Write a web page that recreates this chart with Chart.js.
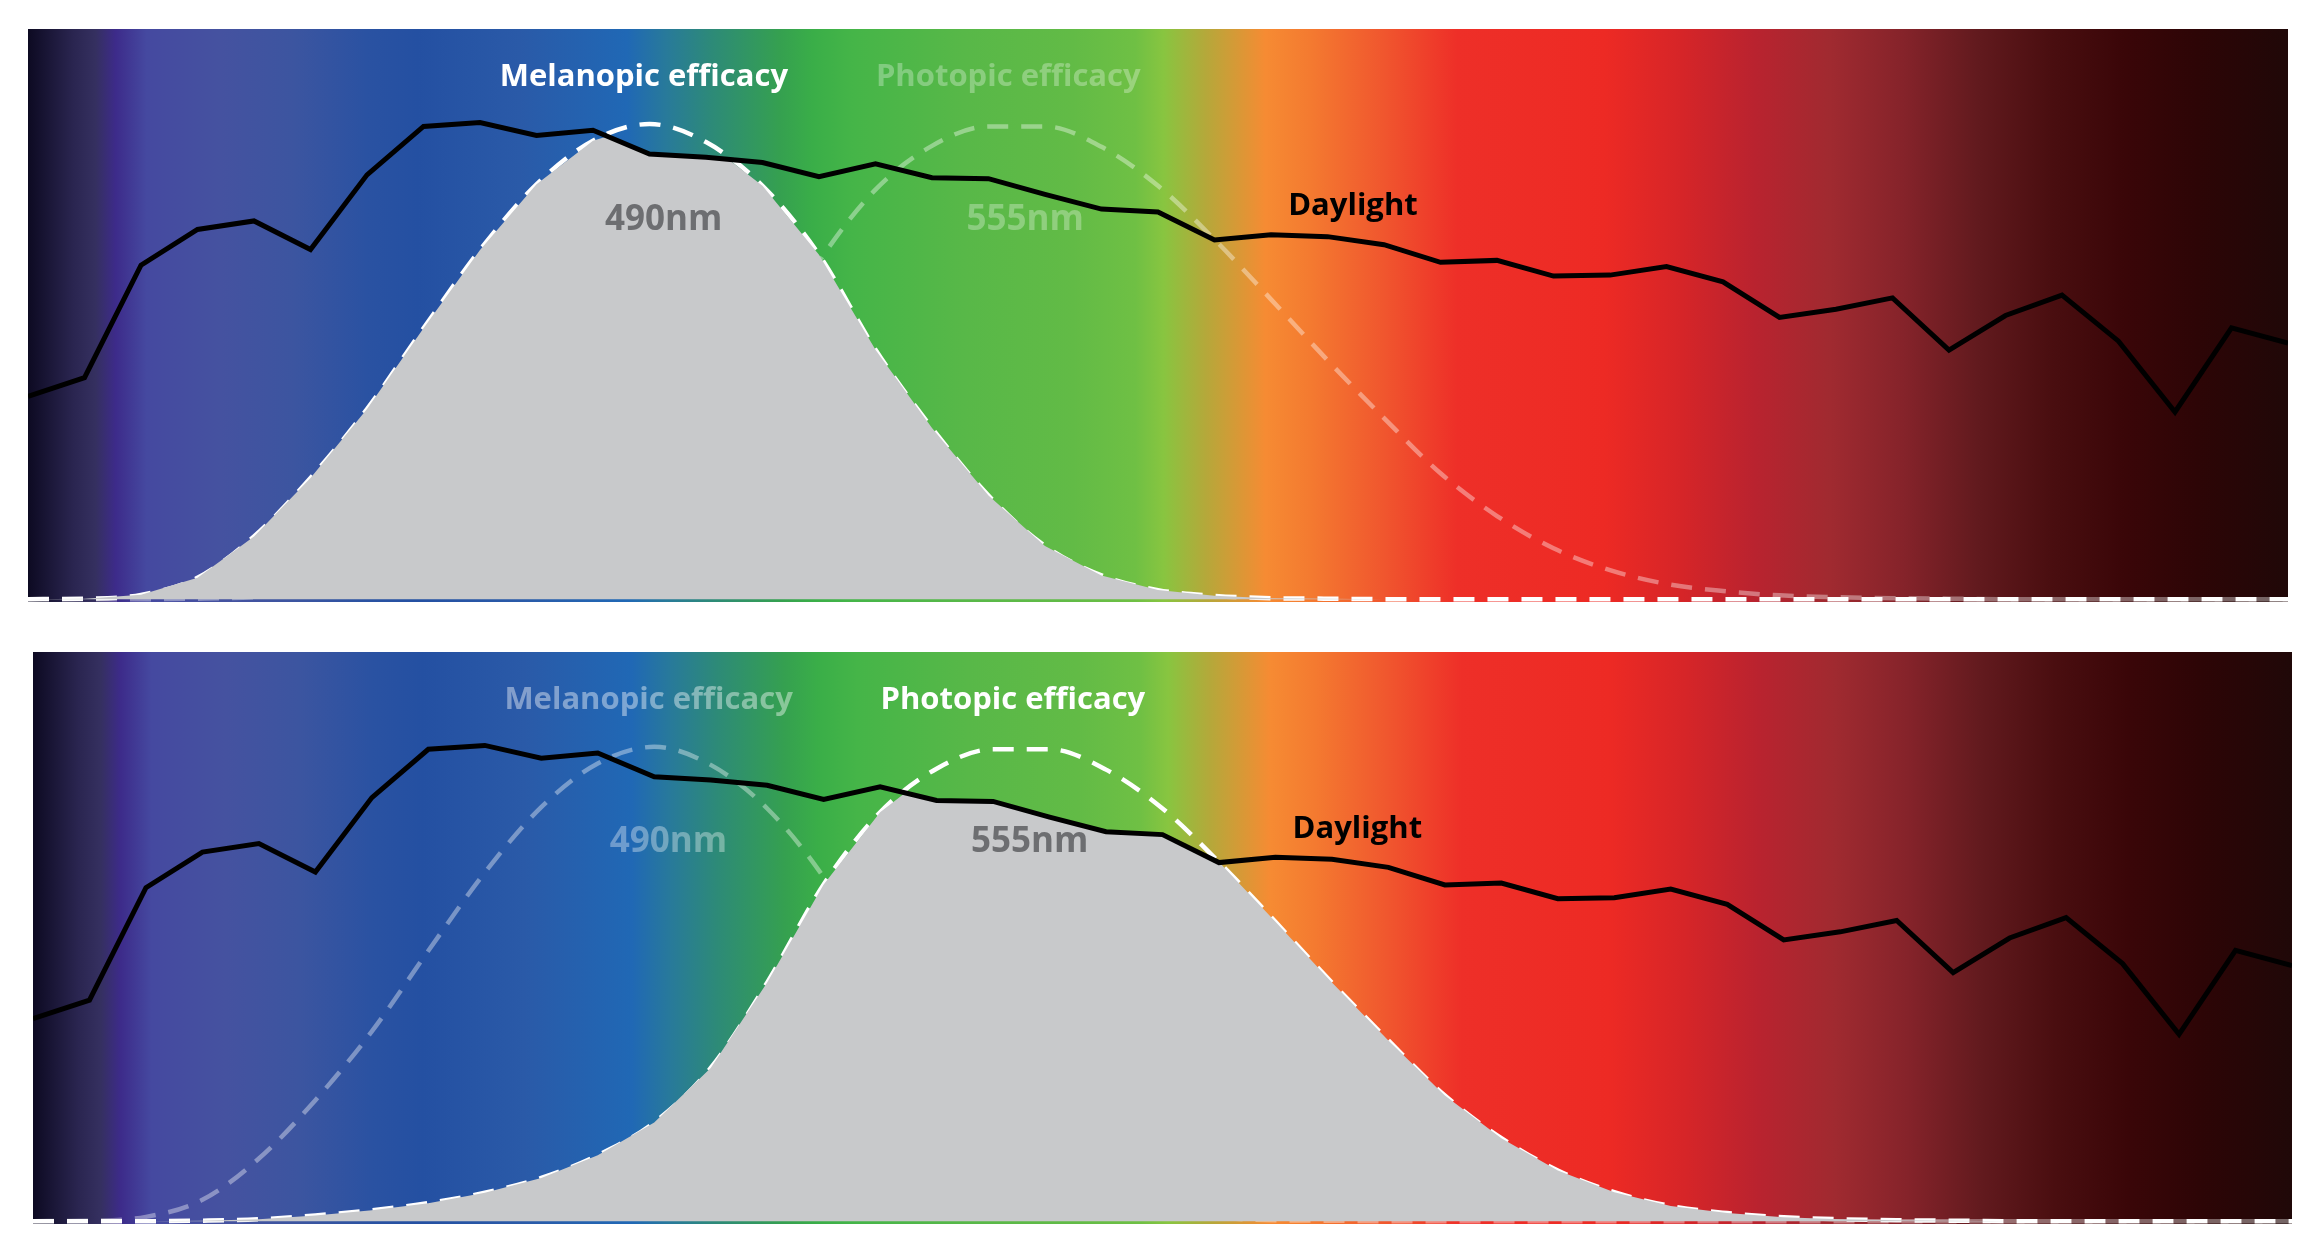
<!DOCTYPE html>
<html>
<head>
<meta charset="utf-8">
<script src="https://cdn.jsdelivr.net/npm/chart.js@4.4.1/dist/chart.umd.min.js"></script>
<style>
  html, body { margin: 0; padding: 0; background: #fff; }
  body { width: 2324px; height: 1247px; position: relative; overflow: hidden; }
  canvas { position: absolute; }
  #topChart { left: 28px; top: 29px; }
  #bottomChart { left: 33px; top: 652px; }
</style>
</head>
<body>
<canvas id="topChart" width="2260" height="573"></canvas>
<canvas id="bottomChart" width="2259" height="572"></canvas>
<script>
// wavelength grid (nm), 10 nm steps
var wavelengths = [380, 390, 400, 410, 420, 430, 440, 450, 460, 470,
                   480, 490, 500, 510, 520, 530, 540, 550, 560, 570,
                   580, 590, 600, 610, 620, 630, 640, 650, 660, 670,
                   680, 690, 700, 710, 720, 730, 740, 750, 760, 770, 780];

// relative spectral power
var daylight = [0.427, 0.466, 0.703, 0.778, 0.796, 0.736, 0.893, 0.995, 1.003, 0.976,
                0.987, 0.937, 0.930, 0.919, 0.889, 0.916, 0.887, 0.885, 0.852, 0.821,
                0.815, 0.756, 0.767, 0.763, 0.746, 0.709, 0.713, 0.680, 0.682, 0.700,
                0.668, 0.593, 0.610, 0.634, 0.524, 0.597, 0.640, 0.543, 0.394, 0.571, 0.539];

var melanopic = [0, 0.001, 0.009, 0.045, 0.132, 0.255, 0.400, 0.570, 0.735, 0.873,
                 0.965, 1.000, 0.962, 0.870, 0.725, 0.525, 0.360, 0.218, 0.112, 0.050,
                 0.019, 0.007, 0.002, 0.001, 0, 0, 0, 0, 0, 0,
                 0, 0, 0, 0, 0, 0, 0, 0, 0, 0, 0];

var photopic = [0, 0, 0, 0.001, 0.004, 0.012, 0.023, 0.038, 0.060, 0.091,
                0.139, 0.208, 0.323, 0.503, 0.710, 0.862, 0.954, 0.995, 0.995, 0.952,
                0.870, 0.757, 0.631, 0.503, 0.381, 0.265, 0.175, 0.107, 0.061, 0.032,
                0.017, 0.008, 0.004, 0.002, 0.001, 0, 0, 0, 0, 0, 0];

// text labels: content, wavelength position, level
var labelTexts = ['Melanopic efficacy', 'Photopic efficacy', '490nm', '555nm', 'Daylight'];
var labelNm = [489, 553.5, 492.5, 556.5, 614.5];
var labelLevel = [1.08, 1.08, 0.778, 0.778, 0.808];
var labelFonts = ['700 31px "Open Sans"', '700 31px "Open Sans"', '700 35px "Open Sans"', '700 35px "Open Sans"', '700 31px "Open Sans"'];

// background spectrum
var spectrumNm = [380, 388, 392, 395.5, 401, 414, 427, 440, 449, 467,
                  486, 493, 501, 513, 519, 526, 546, 565, 576, 581,
                  588.5, 599, 607, 620, 633, 659, 672.6, 685.7, 699, 712,
                  725, 738, 751, 764, 780];
var spectrumColors = ['#0d0a22', '#2a2550', '#353060', '#3d2b8a', '#4549a0', '#4552a0', '#3c55a0', '#2a52a2', '#2450a2', '#2a5aa8',
                      '#2068b5', '#287a9a', '#2d8a78', '#35a050', '#3aae48', '#45b548', '#58b848', '#62bb46', '#6fc044', '#88c540',
                      '#b5a83a', '#f68b33', '#f47a30', '#f0562e', '#ee2f28', '#ed2a24', '#d62528', '#b9232f', '#a02a30', '#85232a',
                      '#621a1e', '#4a0e10', '#3a0608', '#2d0506', '#200808'];

var GRAY = 'rgb(200,201,203)';
var NM_GRAY = '#6d6e71';
var FADED = 'rgba(255,255,255,0.38)';

function toPoints(ys) {
    return wavelengths.map(function(w, i) { return { x: w, y: ys[i] }; });
}

// lower envelope of two series on the same grid, with crossing points
function lowerEnvelope(a, b) {
    var pts = [];
    for (var i = 0; i < wavelengths.length; i++) {
        pts.push({ x: wavelengths[i], y: Math.min(a[i], b[i]) });
        if (i < wavelengths.length - 1) {
            var d0 = a[i] - b[i], d1 = a[i + 1] - b[i + 1];
            if (d0 * d1 < 0) {
                var t = d0 / (d0 - d1);
                pts.push({ x: wavelengths[i] + t * 10, y: a[i] + t * (a[i + 1] - a[i]) });
            }
        }
    }
    return pts;
}

var spectrumPlugin = {
    id: 'spectrum',
    beforeDatasetsDraw: function(chart) {
        var ctx = chart.ctx, area = chart.chartArea, xs = chart.scales.x;
        var g = ctx.createLinearGradient(area.left, 0, area.right, 0);
        for (var i = 0; i < spectrumNm.length; i++) {
            var p = (xs.getPixelForValue(spectrumNm[i]) - area.left) / (area.right - area.left);
            g.addColorStop(Math.min(1, Math.max(0, p)), spectrumColors[i]);
        }
        ctx.save();
        ctx.fillStyle = g;
        ctx.fillRect(area.left, area.top, area.right - area.left, area.bottom - area.top);
        ctx.restore();
    }
};

var labelPlugin = {
    id: 'labels',
    afterDatasetsDraw: function(chart, args, opts) {
        var ctx = chart.ctx, xs = chart.scales.x, ys = chart.scales.y;
        ctx.save();
        ctx.textAlign = 'center';
        ctx.textBaseline = 'alphabetic';
        for (var i = 0; i < labelTexts.length; i++) {
            ctx.font = labelFonts[i];
            ctx.fillStyle = opts.colors[i];
            ctx.fillText(labelTexts[i], xs.getPixelForValue(labelNm[i]), ys.getPixelForValue(labelLevel[i]));
        }
        ctx.restore();
    }
};

function dashed(data, color, order) {
    return {
        data: toPoints(data),
        borderColor: color,
        borderWidth: 4.5,
        borderDash: [21, 13],
        cubicInterpolationMode: 'monotone',
        fill: false,
        order: order
    };
}

function makePanel(id, focus) {
    var mel = focus === 'mel';
    var ctx = document.getElementById(id).getContext('2d');
    return new Chart(ctx, {
        type: 'line',
        data: {
            datasets: [
                {
                    data: toPoints(daylight),
                    borderColor: '#000',
                    borderWidth: 5,
                    borderJoinStyle: 'miter',
                    tension: 0,
                    fill: false,
                    order: 1
                },
                {
                    data: lowerEnvelope(daylight, mel ? melanopic : photopic),
                    borderWidth: 0,
                    borderColor: 'transparent',
                    backgroundColor: GRAY,
                    tension: 0,
                    fill: 'origin',
                    order: 2
                },
                dashed(melanopic, mel ? '#fff' : FADED, mel ? 3 : 4),
                dashed(photopic, mel ? FADED : '#fff', mel ? 4 : 3)
            ]
        },
        options: {
            responsive: false,
            animation: false,
            events: [],
            layout: { padding: 0 },
            elements: { point: { radius: 0 } },
            plugins: {
                legend: { display: false },
                tooltip: { enabled: false },
                labels: {
                    colors: mel
                        ? ['#fff', 'rgba(255,255,255,0.3)', NM_GRAY, 'rgba(255,255,255,0.3)', '#000']
                        : ['rgba(255,255,255,0.42)', '#fff', 'rgba(255,255,255,0.35)', NM_GRAY, '#000']
                }
            },
            scales: {
                x: { type: 'linear', min: 380, max: 780, display: false },
                y: { min: -0.006, max: 1.2, display: false }
            }
        },
        plugins: [spectrumPlugin, labelPlugin]
    });
}

makePanel('topChart', 'mel');
makePanel('bottomChart', 'pho');
</script>
</body>
</html>
